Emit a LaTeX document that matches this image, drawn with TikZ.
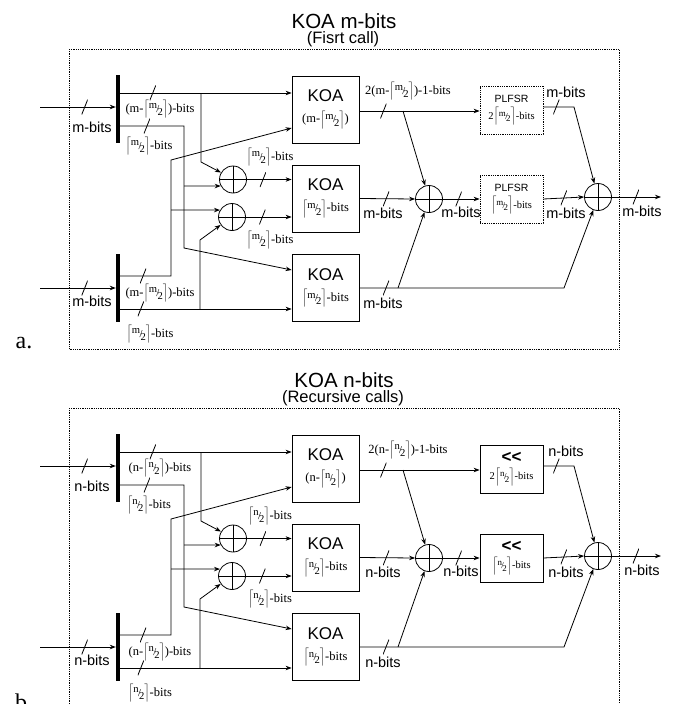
\documentclass[tikz,border=0pt]{standalone}
\usepackage{fontspec}
\setmainfont{Liberation Serif}
\setsansfont{Liberation Sans}
\usepackage{tikz}
\usetikzlibrary{arrows.meta}
\makeatletter
\newcommand{\hlf}[1]{\ensuremath{\Bigl\lceil\hbox{\fontsize{\fpeval{0.85*\f@size}}{0}\selectfont
  \raisebox{.32em}{#1}\kern-.06em/\kern-.18em\raisebox{-.3em}{2}}\Bigr\rceil}}
\makeatother
\tikzset{
  wire/.style={line width=0.8pt},
  sig/.style={wire,-{Stealth[length=6pt,width=4.5pt]}},
  busbar/.style={fill=black,inner sep=0pt,minimum width=4pt,minimum height=68pt},
  busmark/.style={inner sep=0pt,minimum width=6pt,minimum height=15pt,
    path picture={\draw[wire,-] (path picture bounding box.south west) -- (path picture bounding box.north east);}},
  koabox/.style={draw,line width=0.8pt,minimum width=67pt,minimum height=67pt,inner sep=0pt,align=center,
    font=\sffamily\fontsize{17}{20}\selectfont},
  plfsrbox/.style={draw,densely dotted,line width=0.8pt,minimum width=63pt,minimum height=48pt,inner sep=0pt,
    align=center,font=\sffamily},
  lshbox/.style={plfsrbox,solid},
  xorgate/.style={circle,draw,line width=0.8pt,minimum size=27pt,inner sep=0pt,
    path picture={\draw[wire,-] (path picture bounding box.north) -- (path picture bounding box.south)
      (path picture bounding box.west) -- (path picture bounding box.east);}},
  sbits/.style={inner sep=0pt,font=\sffamily\fontsize{14.5}{16}\selectfont},
  rbits/.style={inner sep=0pt,font=\rmfamily\fontsize{12.5}{14}\selectfont},
  outerframe/.style={densely dotted,line width=0.8pt},
  ttl/.style={inner sep=0pt,font=\sffamily\fontsize{20.5}{22}\selectfont},
  subttl/.style={inner sep=0pt,font=\sffamily\fontsize{16.5}{18}\selectfont},
  panelmark/.style={inner sep=0pt,font=\rmfamily\fontsize{24}{26}\selectfont},
}
% one KOA panel: prefix, y shift, operand letter, subtitle, shifter heading, shifter style
\newcommand{\koapanel}[6]{%
\begin{scope}[name prefix=#1-,shift={(0,#2)}]
  % frame + titles
  \draw[outerframe] (69,49) rectangle (619,349);
  \node[ttl] (title) at (344,21) {KOA #3-bits};
  \node[subttl] (sub) at (343,39) {#4};
  \node[panelmark] (mark) at (24,343) {#1.};
  % splitters
  \node[busbar] (barA) at (118,108.5) {};
  \node[busbar] (barB) at (118,287.5) {};
  % multipliers, adders, shifters
  \node[koabox] (koa1) at (325.5,109.5) {KOA\\[1pt]{\rmfamily\fontsize{12.5}{14}\selectfont(#3-\hlf{#3})}};
  \node[koabox] (koa2) at (325.5,198.5) {KOA\\[1pt]{\rmfamily\fontsize{12.5}{14}\selectfont\hlf{#3}-bits}};
  \node[koabox] (koa3) at (325.5,288) {KOA\\[1pt]{\rmfamily\fontsize{12.5}{14}\selectfont\hlf{#3}-bits}};
  \node[#6] (plf1) at (511.5,110) {#5\\[5pt]{\rmfamily\fontsize{10.5}{12}\selectfont 2\hlf{#3}-bits}};
  \node[#6] (plf2) at (511.5,199) {#5\\[5pt]{\rmfamily\fontsize{10.5}{12}\selectfont\hlf{#3}-bits}};
  \node[xorgate] (xor1) at (233,179.5) {};
  \node[xorgate] (xor2) at (232,217) {};
  \node[xorgate] (xor3) at (429,199) {};
  \node[xorgate] (xor4) at (598,197) {};
  % free ends + junctions
  \coordinate (inA) at (40,107);
  \coordinate (inB) at (40,288);
  \coordinate (jAh) at (201,93);
  \coordinate (jAl) at (184,186);
  \coordinate (jBh) at (171,210);
  \coordinate (jBl) at (200,309);
  \coordinate (jK1) at (403,111);
  \coordinate (jK3) at (398,288);
  \coordinate (out) at (661,197);
  % inputs
  \draw[sig] (inA) -- node[busmark,pos=.59]{} (inA -| barA.west);
  \draw[sig] (inB) -- node[busmark,pos=.59]{} (inB -| barB.west);
  % operand halves
  \draw[sig] (jAh -| barA.east) -- node[busmark,pos=.19]{} (jAh -| koa1.west);
  \draw[sig] (jAh) -- (201,162) -- (xor1.150);
  \draw[sig] (barA.east |- 0,126) -- node[busmark,pos=.42]{} (184,126) -- (184,248) -- (koa3.west |- 0,270);
  \draw[sig] (jAl) -- (xor1.208);
  \draw[sig] (barB.east |- 0,276) -- node[busmark,pos=.45]{} (171,276) -- (171,160) -- (koa1.west |- 0,128);
  \draw[sig] (jBh) -- (xor2.150);
  \draw[sig] (jBl -| barB.east) -- node[busmark,pos=.12]{} (jBl -| koa3.west);
  \draw[sig] (jBl) -- (200,240) -- (xor2.215);
  \draw[sig] (xor1.east) -- node[busmark,pos=.36]{} (xor1.east -| koa2.west);
  \draw[sig] (xor2.east) -- node[busmark,pos=.36]{} (xor2.east -| koa2.west);
  % partial products
  \draw[sig] (koa1.east |- jK1) -- node[busmark,pos=.2]{} (jK1 -| plf1.west);
  \draw[sig] (jK1) -- (xor3.106);
  \draw[sig] (koa2.east) -- node[busmark,pos=.48]{} (xor3.west);
  \draw[sig] (koa3.east) -- node[busmark,pos=.13]{} (564,288) -- (xor4.250);
  \draw[sig] (jK3) -- (xor3.251);
  \draw[sig] (xor3.east) -- node[busmark,pos=.43]{} (xor3.east -| plf2.west);
  \draw[sig] (plf1.east |- 0,107) -- node[busmark,pos=.42]{} (574,107) -- (xor4.105);
  \draw[sig] (plf2.east) -- node[busmark,pos=.5]{} (xor4.west);
  \draw[sig] (xor4.east) -- node[busmark,pos=.49]{} (out);
  % widths
  \node[sbits] (lInA) at (92,127) {#3-bits};
  \node[sbits] (lInB) at (92,301) {#3-bits};
  \node[rbits] (lAh) at (160,109) {(#3-\hlf{#3})-bits};
  \node[rbits] (lAl) at (149,146) {\hlf{#3}-bits};
  \node[rbits] (lBh) at (160,293) {(#3-\hlf{#3})-bits};
  \node[rbits] (lBl) at (150,334) {\hlf{#3}-bits};
  \node[rbits] (lX1) at (270,157) {\hlf{#3}-bits};
  \node[rbits] (lX2) at (270,240) {\hlf{#3}-bits};
  \node[rbits] (lK1) at (408,91) {2(#3-\hlf{#3})-1-bits};
  \node[sbits] (lK2) at (383,213) {#3-bits};
  \node[sbits] (lK3) at (383,303) {#3-bits};
  \node[sbits] (lX3) at (461,212) {#3-bits};
  \node[sbits] (lP1) at (566,92) {#3-bits};
  \node[sbits] (lP2) at (566,213) {#3-bits};
  \node[sbits] (lOut) at (642,211) {#3-bits};
\end{scope}}

\begin{document}
\begin{tikzpicture}[x=1pt,y=-1pt]
  \useasboundingbox (0,0) rectangle (672,704);
  \koapanel{a}{0}{m}{(Fisrt call)}{\fontsize{10.5}{12}\selectfont PLFSR}{plfsrbox}
  \koapanel{b}{359}{n}{(Recursive calls)}{\fontsize{17}{18}\selectfont\bfseries <{}<}{lshbox}
\end{tikzpicture}
\end{document}
